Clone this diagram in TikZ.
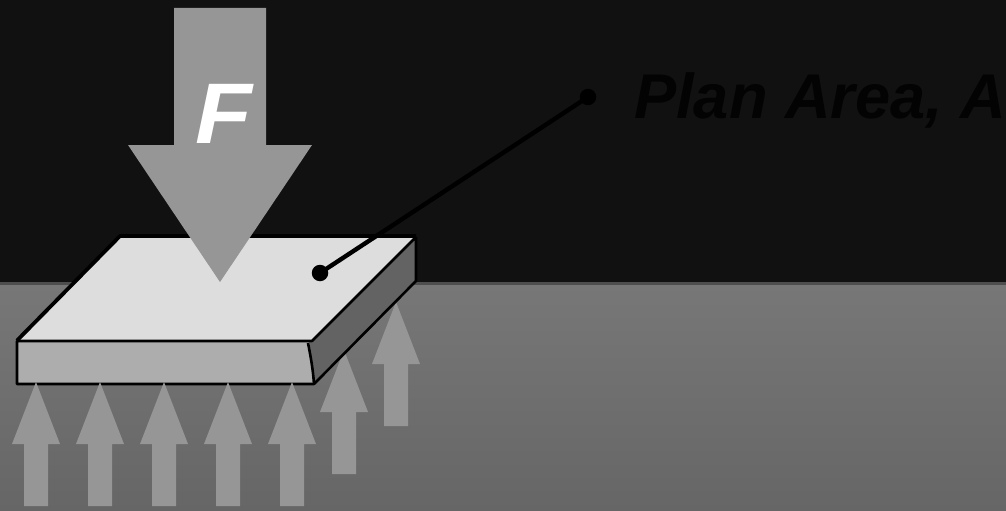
\documentclass[tikz,border=0pt]{standalone}
\usepackage{fontspec}
\setmainfont{Liberation Sans}
\definecolor{topbg}{HTML}{111111}
\definecolor{bandline}{HTML}{4E4E4E}
\definecolor{lowA}{HTML}{777777}
\definecolor{lowB}{HTML}{666666}
\definecolor{arrowgray}{HTML}{969696}
\definecolor{slabtop}{HTML}{DDDDDD}
\definecolor{slabfront}{HTML}{ADADAD}
\definecolor{slabside}{HTML}{636363}
\definecolor{labelblack}{HTML}{030303}
\tikzset{
  px/.style={x=1pt,y=-1pt},
  edge/.style={draw=black,line width=2.6pt,line join=round},
  updart/.style={fill=arrowgray,draw=none},
  leader/.style={draw=black,line width=4.4pt},
  enddot/.style={circle,fill=black,draw=none,inner sep=0pt,minimum size=16.5pt}
}
\newcommand{\uparr}[2]{% x, tip y
  \fill[updart] (#1,#2) -- (#1+24,#2+62) -- (#1+12,#2+62) -- (#1+12,#2+124)
    -- (#1-12,#2+124) -- (#1-12,#2+62) -- (#1-24,#2+62) -- cycle;}
\begin{document}
\begin{tikzpicture}[px]
\useasboundingbox (0,0) rectangle (1006,511);
\fill[topbg] (0,0) rectangle (1006,511);
\shade[top color=lowA,bottom color=lowB] (0,284) rectangle (1006,511);
\draw[bandline,line width=3pt] (0,283.5) -- (1006,283.5);
% upward pressure arrows
\uparr{396}{302}
\uparr{344}{350}
% slab
\path[fill=slabside] (416,237) -- (416,281) -- (314,384) -- (308,343) -- cycle;
\path[fill=slabfront] (17,341) -- (309,341) -- (314,384) -- (17,384) -- cycle;
\path[fill=slabtop] (17,341) -- (120,237) -- (416,237) -- (312,341) -- cycle;
\draw[edge,line width=3.8pt] (17,340.5) -- (120,236) -- (416,236);
\draw[edge] (416,237) -- (416,281) -- (314,384) -- (17,384) -- (17,341) -- (312,341) -- (416,237);
\draw[edge] (308,343) .. controls (311,358) and (313,370) .. (314,384);
\uparr{36}{382}
\uparr{100}{382}
\uparr{164}{382}
\uparr{228}{382}
\uparr{292}{382}
% force arrow
\fill[arrowgray] (174,8) -- (266,8) -- (266,145) -- (312,145) -- (220,282) -- (128,145) -- (174,145) -- cycle;
\node[text=white,font=\fontsize{86}{86}\selectfont\bfseries\itshape,anchor=base west,inner sep=0pt] (force) at (195,143) {\scalebox{1.08}[1]{F}};
% leader
\node[enddot] (d1) at (320,273) {};
\node[enddot] (d2) at (588,97) {};
\draw[leader] (d1.center) -- (d2.center);
\node[text=labelblack,font=\fontsize{63.2}{64}\selectfont\bfseries\itshape,anchor=base west,inner sep=0pt] (plan) at (634,118) {Plan Area, A};
\end{tikzpicture}
\end{document}
